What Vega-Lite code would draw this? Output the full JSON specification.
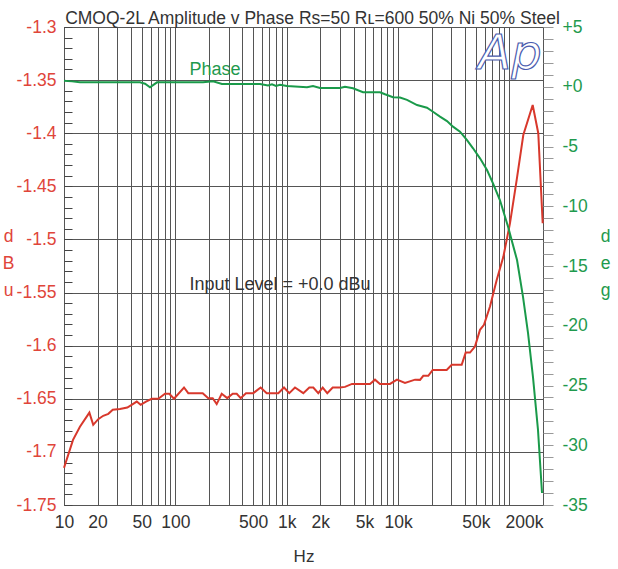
{
  "$schema": "https://vega.github.io/schema/vega-lite/v6.json",
  "width": 479,
  "height": 478,
  "autosize": {"type": "none"},
  "padding": {"left": 64, "top": 27, "right": 75, "bottom": 64},
  "background": "white",
  "config": {
    "view": {"stroke": "#333", "strokeWidth": 1},
    "font": "Liberation Sans",
    "axis": {"labelFont": "Liberation Sans", "titleFont": "Liberation Sans", "gridColor": "#555", "gridWidth": 1, "domain": false, "titleFontWeight": "normal"}
  },
  "title": {
    "text": "CMOQ-2L Amplitude v Phase Rs=50 Rʟ=600 50% Ni 50% Steel",
    "fontSize": 17.5,
    "fontWeight": "normal",
    "color": "#333",
    "anchor": "middle",
    "frame": "group",
    "offset": -9,
    "dx": 9
  },
  "datasets": {
    "amp": [
      {"f": 10, "v": -1.715}, {"f": 12.05, "v": -1.6887}, {"f": 13.9, "v": -1.6764}, {"f": 16.9, "v": -1.663},
      {"f": 18.3, "v": -1.6745}, {"f": 20.3, "v": -1.6692}, {"f": 22.5, "v": -1.666}, {"f": 25, "v": -1.6642},
      {"f": 27.4, "v": -1.6604}, {"f": 31.8, "v": -1.6597}, {"f": 37, "v": -1.6582}, {"f": 40.5, "v": -1.6557},
      {"f": 45, "v": -1.6526}, {"f": 48.8, "v": -1.6557}, {"f": 54.5, "v": -1.6526}, {"f": 61.3, "v": -1.65},
      {"f": 70.3, "v": -1.65}, {"f": 80.7, "v": -1.6453}, {"f": 88.2, "v": -1.6453}, {"f": 97.2, "v": -1.65},
      {"f": 119.6, "v": -1.6394}, {"f": 130.6, "v": -1.6447}, {"f": 176, "v": -1.6447}, {"f": 197.6, "v": -1.6494},
      {"f": 216.4, "v": -1.6494}, {"f": 235, "v": -1.655}, {"f": 260.6, "v": -1.6453}, {"f": 292.6, "v": -1.6494},
      {"f": 327, "v": -1.6453}, {"f": 355.5, "v": -1.6453}, {"f": 386, "v": -1.6494}, {"f": 430.6, "v": -1.6447},
      {"f": 501, "v": -1.6447}, {"f": 583, "v": -1.6394}, {"f": 661, "v": -1.6447}, {"f": 840, "v": -1.6447},
      {"f": 945, "v": -1.6394}, {"f": 1054, "v": -1.6447}, {"f": 1186, "v": -1.6394}, {"f": 1409, "v": -1.6447},
      {"f": 1595, "v": -1.6394}, {"f": 1732, "v": -1.6394}, {"f": 1920, "v": -1.6447}, {"f": 2103, "v": -1.6394},
      {"f": 2312, "v": -1.6447}, {"f": 2586, "v": -1.6394}, {"f": 3008, "v": -1.6394}, {"f": 3336, "v": -1.6388},
      {"f": 3855, "v": -1.636}, {"f": 4548, "v": -1.636}, {"f": 5593, "v": -1.636}, {"f": 6202, "v": -1.632},
      {"f": 6877, "v": -1.636}, {"f": 8455, "v": -1.636}, {"f": 9772, "v": -1.632}, {"f": 11530, "v": -1.635},
      {"f": 14190, "v": -1.632}, {"f": 15730, "v": -1.6322}, {"f": 16830, "v": -1.6284}, {"f": 18670, "v": -1.6284},
      {"f": 20450, "v": -1.6228}, {"f": 27300, "v": -1.6228}, {"f": 30300, "v": -1.618}, {"f": 37240, "v": -1.618},
      {"f": 40460, "v": -1.6065}, {"f": 44220, "v": -1.6065}, {"f": 49000, "v": -1.6008}, {"f": 54370, "v": -1.5851},
      {"f": 59030, "v": -1.5804}, {"f": 66860, "v": -1.5632}, {"f": 76780, "v": -1.5381}, {"f": 88080, "v": -1.5164},
      {"f": 101100, "v": -1.4847}, {"f": 116100, "v": -1.444}, {"f": 133100, "v": -1.4017}, {"f": 161600, "v": -1.3734},
      {"f": 181400, "v": -1.4}, {"f": 198700, "v": -1.4847}
    ],
    "phase": [
      {"f": 10, "v": 0.5}, {"f": 11.8, "v": 0.45}, {"f": 13.9, "v": 0.37}, {"f": 48.1, "v": 0.37}, {"f": 53.4, "v": 0.25},
      {"f": 59.2, "v": -0.05}, {"f": 68.4, "v": 0.37}, {"f": 177, "v": 0.37}, {"f": 218, "v": 0.45}, {"f": 262, "v": 0.23},
      {"f": 575, "v": 0.23}, {"f": 679, "v": 0.1}, {"f": 737, "v": 0.2}, {"f": 801, "v": 0.06}, {"f": 870, "v": 0.16},
      {"f": 1005, "v": 0.06}, {"f": 1520, "v": -0.05}, {"f": 1722, "v": 0.06}, {"f": 1989, "v": -0.1}, {"f": 3008, "v": -0.1},
      {"f": 3336, "v": 0.0}, {"f": 3935, "v": -0.13}, {"f": 4840, "v": -0.46}, {"f": 6877, "v": -0.46}, {"f": 7627, "v": -0.63},
      {"f": 9000, "v": -0.88}, {"f": 10400, "v": -0.9}, {"f": 12020, "v": -1.1}, {"f": 14790, "v": -1.53}, {"f": 18160, "v": -1.75},
      {"f": 20570, "v": -2.09}, {"f": 23770, "v": -2.5}, {"f": 27480, "v": -2.87}, {"f": 31110, "v": -3.34}, {"f": 35960, "v": -3.76},
      {"f": 41570, "v": -4.46}, {"f": 47080, "v": -5.15}, {"f": 54370, "v": -5.99}, {"f": 62850, "v": -6.97}, {"f": 71140, "v": -8.08},
      {"f": 82200, "v": -9.5}, {"f": 97000, "v": -11.7}, {"f": 116900, "v": -14.5}, {"f": 132400, "v": -17.6}, {"f": 146700, "v": -20.6},
      {"f": 162600, "v": -24.3}, {"f": 180300, "v": -28.7}, {"f": 196000, "v": -34.0}
    ],
    "phaseLabel": [{"f": 227, "v": -1.3405, "label": "Phase"}],
    "levelLabel": [{"f": 870, "v": -1.5428, "label": "Input Level = +0.0 dBu"}],
    "logo": [{"f": 101000, "v": -1.326, "label": "Ap"}]
  },
  "encoding": {
    "x": {
      "field": "f", "type": "quantitative",
      "scale": {"type": "log", "domain": [10, 200000], "nice": false},
      "axis": {
        "title": "Hz", "titleFontSize": 17, "titleColor": "#333", "titlePadding": 18,
        "values": [10,20,30,40,50,60,70,80,90,100,200,300,400,500,600,700,800,900,1000,2000,3000,4000,5000,6000,7000,8000,9000,10000,20000,30000,40000,50000,60000,70000,80000,90000,100000,200000],
        "tickCount": 500,
        "labelExpr": "indexof([10,20,50,100,500,1000,2000,5000,10000,50000,200000], datum.value) >= 0 ? (datum.value >= 1000 ? (datum.value/1000) + 'k' : '' + datum.value) : ''",
        "labelAlign": {"condition": {"test": "datum.value == 200000", "value": "right"}, "value": "center"},
        "labelFlush": false,
        "labelOverlap": false,
        "labelFontSize": 17.5, "labelColor": "#333", "labelPadding": 8,
        "ticks": false, "grid": true
      }
    }
  },
  "layer": [
    {
      "layer": [
        {
          "data": {"name": "amp"},
          "mark": {"type": "line", "color": "#d8382c", "strokeWidth": 2},
          "encoding": {
            "y": {
              "field": "v", "type": "quantitative",
              "scale": {"domain": [-1.75, -1.3], "nice": false, "zero": false},
              "axis": {
                "title": ["d", "B", "u"], "titleAngle": 0, "titleAlign": "center", "titleBaseline": "middle",
                "titleX": -56, "titleY": 209, "titleLineHeight": 27, "titleFontSize": 17.5, "titleColor": "#e0453a",
                "values": [-1.75,-1.74,-1.73,-1.72,-1.71,-1.7,-1.69,-1.68,-1.67,-1.66,-1.65,-1.64,-1.63,-1.62,-1.61,-1.6,-1.59,-1.58,-1.57,-1.56,-1.55,-1.54,-1.53,-1.52,-1.51,-1.5,-1.49,-1.48,-1.47,-1.46,-1.45,-1.44,-1.43,-1.42,-1.41,-1.4,-1.39,-1.38,-1.37,-1.36,-1.35,-1.34,-1.33,-1.32,-1.31,-1.3],
                "tickCount": 500,
                "labelExpr": "abs(round(datum.value*100) % 5) == 0 ? '' + datum.value : ''",
                "labelOverlap": false,
                "labelFontSize": 17.5, "labelColor": "#e0453a", "labelPadding": 16,
                "tickSize": -8, "tickColor": "#444",
                "grid": true,
                "gridOpacity": {"condition": {"test": "abs(round(datum.value*100) % 5) == 0", "value": 1}, "value": 0}
              }
            }
          }
        },
        {
          "data": {"name": "phaseLabel"},
          "mark": {"type": "text", "color": "#1f9a4e", "fontSize": 18, "font": "Liberation Sans", "align": "center", "baseline": "middle"},
          "encoding": {
            "y": {"field": "v", "type": "quantitative"},
            "text": {"field": "label"}
          }
        },
        {
          "data": {"name": "levelLabel"},
          "mark": {"type": "text", "color": "#333", "fontSize": 18, "font": "Liberation Sans", "align": "center", "baseline": "middle"},
          "encoding": {
            "y": {"field": "v", "type": "quantitative"},
            "text": {"field": "label"}
          }
        },
        {
          "data": {"name": "logo"},
          "mark": {"type": "text", "fill": "white", "stroke": "#4a5cae", "strokeWidth": 1.2, "fontSize": 48, "font": "DejaVu Sans", "fontStyle": "italic", "align": "center", "baseline": "middle"},
          "encoding": {
            "y": {"field": "v", "type": "quantitative"},
            "text": {"field": "label"}
          }
        }
      ]
    },
    {
      "data": {"name": "phase"},
      "mark": {"type": "line", "color": "#1a9a4a", "strokeWidth": 2},
      "encoding": {
        "y": {
          "field": "v", "type": "quantitative",
          "scale": {"domain": [-35, 5], "nice": false, "zero": false},
          "axis": {
            "orient": "right",
            "title": ["d", "e", "g"], "titleAngle": 0, "titleAlign": "center", "titleBaseline": "middle",
            "titleX": 62, "titleY": 209, "titleLineHeight": 27, "titleFontSize": 17.5, "titleColor": "#1f9a4e",
            "values": [-35,-34,-33,-32,-31,-30,-29,-28,-27,-26,-25,-24,-23,-22,-21,-20,-19,-18,-17,-16,-15,-14,-13,-12,-11,-10,-9,-8,-7,-6,-5,-4,-3,-2,-1,0,1,2,3,4,5],
            "tickCount": 500,
            "labelExpr": "abs(datum.value % 5) == 0 ? (datum.value > 0 ? '+' + datum.value : (datum.value == 0 ? '+0' : '' + datum.value)) : ''",
            "labelOverlap": false,
            "labelFontSize": 17.5, "labelColor": "#1f9a4e", "labelPadding": 9,
            "tickSize": 10, "tickColor": "#999",
            "grid": false
          }
        }
      }
    }
  ],
  "resolve": {"scale": {"y": "independent"}}
}
